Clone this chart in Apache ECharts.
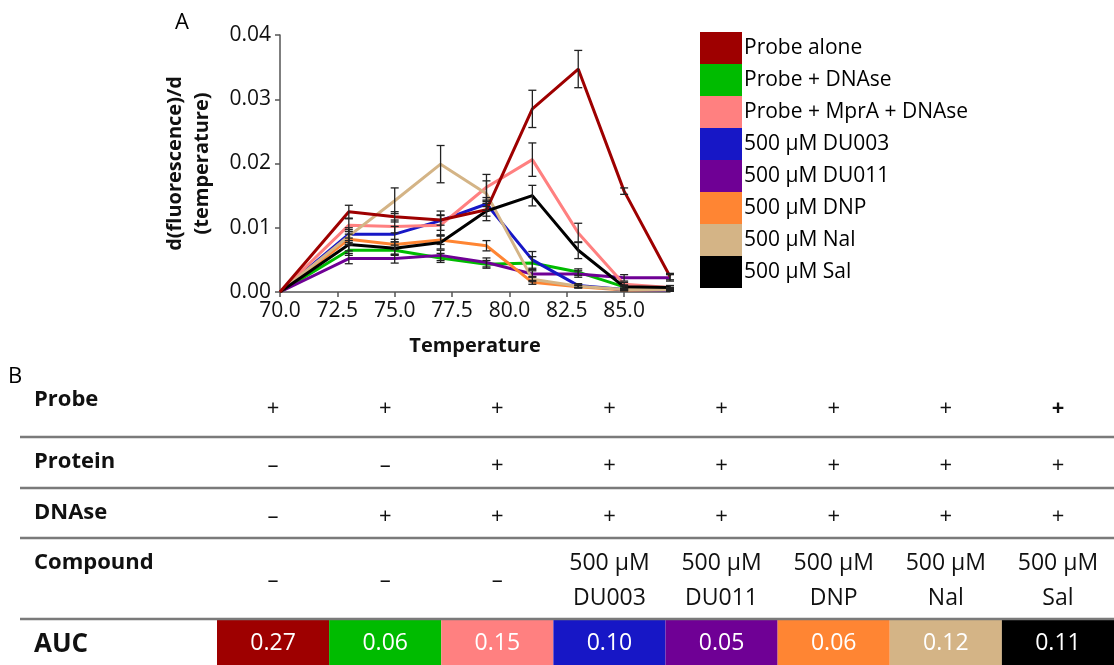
<!DOCTYPE html>
<html>
<head>
<meta charset="utf-8">
<script src="https://cdn.jsdelivr.net/npm/echarts@6/dist/echarts.min.js"></script>
<style>
  html, body { margin: 0; padding: 0; background: #fff; }
  #chart { width: 1114px; height: 665px; }
</style>
</head>
<body>
<div id="chart"></div>
<script>
// ---- data ----
const TEMPS = [70, 73, 75, 77, 79, 81, 83, 85, 87];
const X_TICKS = [70, 72.5, 75, 77.5, 80, 82.5, 85];

const SERIES_NAMES = ['Probe alone', 'Probe + DNAse', 'Probe + MprA + DNAse', '500 µM DU003',
  '500 µM DU011', '500 µM DNP', '500 µM Nal', '500 µM Sal'];

const probeAlone = [0, 0.0125, 0.0117, 0.0112, 0.0128, 0.0285, 0.0347, 0.0157, 0.0024];
const probeDNAse = [0, 0.0065, 0.0065, 0.0053, 0.0043, 0.0045, 0.0031, 0.0008, 0.0005];
const probeMprA  = [0, 0.0104, 0.0102, 0.0104, 0.0163, 0.0206, 0.0092, 0.0012, 0.0007];
const du003      = [0, 0.0090, 0.0090, 0.0111, 0.0137, 0.0050, 0.0010, 0.0004, 0.0003];
const du011      = [0, 0.0052, 0.0052, 0.0057, 0.0046, 0.0028, 0.0028, 0.0022, 0.0022];
const dnp        = [0, 0.0082, 0.0074, 0.0081, 0.0072, 0.0015, 0.0008, 0.0003, 0.0003];
const nal        = [0, 0.0087, 0.0142, 0.0199, 0.0153, 0.0020, 0.0009, 0.0004, 0.0004];
const sal        = [0, 0.0074, 0.0068, 0.0077, 0.0126, 0.0150, 0.0065, 0.0008, 0.0007];

// error bar half-lengths
const probeAloneErr = [0, 0.0010, 0.0008, 0.0008, 0.0010, 0.0029, 0.0029, 0.0005, 0.0005];
const probeDNAseErr = [0, 0.0008, 0.0008, 0.0007, 0.0006, 0.0010, 0.0005, 0.0002, 0.0002];
const probeMprAErr  = [0, 0.0010, 0.0010, 0.0015, 0.0020, 0.0026, 0.0015, 0.0003, 0.0003];
const du003Err      = [0, 0.0010, 0.0012, 0.0015, 0.0010, 0.0013, 0.0003, 0.0002, 0.0002];
const du011Err      = [0, 0.0008, 0.0007, 0.0008, 0.0007, 0.0005, 0.0005, 0.0005, 0.0005];
const dnpErr        = [0, 0.0008, 0.0008, 0.0007, 0.0008, 0.0003, 0.0002, 0.0001, 0.0001];
const nalErr        = [0, 0.0010, 0.0020, 0.0029, 0.0020, 0.0004, 0.0002, 0.0001, 0.0001];
const salErr        = [0, 0.0010, 0.0010, 0.0010, 0.0015, 0.0016, 0.0013, 0.0003, 0.0003];

// table B
const ROW_NAMES = ['Probe', 'Protein', 'DNAse', 'Compound', 'AUC'];
const probeRow    = ['+', '+', '+', '+', '+', '+', '+', '+'];
const proteinRow  = ['–', '–', '+', '+', '+', '+', '+', '+'];
const dnaseRow    = ['–', '+', '+', '+', '+', '+', '+', '+'];
const compoundRow = ['–', '–', '–', '500 µM\nDU003', '500 µM\nDU011', '500 µM\nDNP', '500 µM\nNal', '500 µM\nSal'];
const aucValues   = [0.27, 0.06, 0.15, 0.10, 0.05, 0.06, 0.12, 0.11];

// ---- styles / layout ----
const COLORS = ['#9e0000', '#00bb00', '#ff8080', '#1717c6', '#6f0095', '#ff8533', '#d4b486', '#000000'];
const Z_ORDER = [9, 2, 6, 5, 3, 4, 7, 8];
const FONT = '"Open Sans", "Noto Sans", sans-serif';
const ROW_Y = { probe: 409, protein: 466, dnase: 517, compound: 581, aucTop: 619, aucH: 46 };
const RULES_Y = [437, 488, 538, 619];

const values = [probeAlone, probeDNAse, probeMprA, du003, du011, dnp, nal, sal];
const errors = [probeAloneErr, probeDNAseErr, probeMprAErr, du003Err, du011Err, dnpErr, nalErr, salErr];

const chart = echarts.init(document.getElementById('chart'));

const series = [];
SERIES_NAMES.forEach((name, k) => {
  series.push({
    name: name,
    type: 'line',
    xAxisIndex: 0, yAxisIndex: 0,
    data: TEMPS.map((t, i) => [t, values[k][i]]),
    showSymbol: false,
    symbol: 'none',
    color: COLORS[k],
    lineStyle: { width: 3, color: COLORS[k] },
    z: Z_ORDER[k],
    animation: false
  });
});

// error bars, all series in one custom series
const errData = [];
values.forEach((arr, k) => {
  arr.forEach((v, i) => { if (errors[k][i] > 0) errData.push([TEMPS[i], v, errors[k][i]]); });
});
series.push({
  type: 'custom',
  xAxisIndex: 0, yAxisIndex: 0,
  data: errData,
  z: 20,
  silent: true,
  animation: false,
  renderItem: function (params, api) {
    const x = api.value(0), y = api.value(1), e = api.value(2);
    const lo = api.coord([x, y - e]);
    const hi = api.coord([x, y + e]);
    const c = 4;
    const st = { stroke: '#222', lineWidth: 1.3 };
    return {
      type: 'group',
      children: [
        { type: 'line', shape: { x1: lo[0], y1: lo[1], x2: hi[0], y2: hi[1] }, style: st },
        { type: 'line', shape: { x1: lo[0] - c, y1: lo[1], x2: lo[0] + c, y2: lo[1] }, style: st },
        { type: 'line', shape: { x1: hi[0] - c, y1: hi[1], x2: hi[0] + c, y2: hi[1] }, style: st }
      ]
    };
  }
});

// table cells
series.push({
  type: 'custom',
  xAxisIndex: 1, yAxisIndex: 1,
  data: aucValues.map((v, i) => [i, v]),
  silent: true,
  animation: false,
  renderItem: function (params, api) {
    const i = params.dataIndex;
    const cx = api.coord([i, 0])[0];
    const w = api.size([1, 0])[0];
    const txt = (s, y, size) => ({
      type: 'text',
      style: { text: s, x: cx, y: y, align: 'center', verticalAlign: 'middle',
        fontFamily: FONT, fontSize: size, fill: '#111', lineHeight: 35 }
    });
    const children = [
      txt(probeRow[i], ROW_Y.probe, 22),
      txt(proteinRow[i], ROW_Y.protein, 22),
      txt(dnaseRow[i], ROW_Y.dnase, 22),
      txt(compoundRow[i], ROW_Y.compound, compoundRow[i].length > 1 ? 23 : 22),
      { type: 'rect', shape: { x: cx - w / 2, y: ROW_Y.aucTop, width: w, height: ROW_Y.aucH },
        style: { fill: COLORS[i] } },
      { type: 'text', style: { text: api.value(1).toFixed(2), x: cx, y: ROW_Y.aucTop + ROW_Y.aucH / 2 + 1,
        align: 'center', verticalAlign: 'middle', fontFamily: FONT, fontSize: 23, fill: '#fff' } }
    ];
    if (i === probeRow.length - 1) children[0].style.fontWeight = 'bold';
    return { type: 'group', children: children };
  }
});

const graphics = [
  { type: 'text', left: 175, top: 12, style: { text: 'A', fontFamily: FONT, fontSize: 22, fill: '#000' } },
  { type: 'text', left: 8, top: 366, style: { text: 'B', fontFamily: FONT, fontSize: 22, fill: '#000' } }
];
RULES_Y.forEach(y => graphics.push({
  type: 'line', shape: { x1: 20, y1: y, x2: 1114, y2: y },
  style: { stroke: '#7a7a7a', lineWidth: 2.5 }, z: 5
}));
const labelY = [400, 462, 513, 563, 645];
ROW_NAMES.forEach((n, r) => graphics.push({
  type: 'text', x: 34, y: labelY[r],
  style: { text: n, fontFamily: FONT, fontWeight: 'bold', fontSize: n === 'AUC' ? 26 : 22,
    fill: '#111', verticalAlign: 'middle' }
}));

const option = {
  backgroundColor: '#fff',
  animation: false,
  textStyle: { fontFamily: FONT },
  grid: [
    { left: 280, top: 35, width: 390, height: 257 },
    { left: 217, top: 380, width: 906, height: 285 }
  ],
  legend: {
    orient: 'vertical',
    left: 700, top: 32, padding: 0,
    icon: 'rect',
    itemWidth: 42, itemHeight: 32, itemGap: 0,
    data: SERIES_NAMES,
    selectedMode: false,
    textStyle: { fontFamily: FONT, fontSize: 21, color: '#000', padding: [0, 0, 0, -3] }
  },
  xAxis: [{
    type: 'value', gridIndex: 0,
    min: 70, max: 87, interval: 2.5,
    name: 'Temperature', nameLocation: 'middle', nameGap: 44,
    nameTextStyle: { fontFamily: FONT, fontWeight: 'bold', fontSize: 20, color: '#111' },
    axisLine: { lineStyle: { color: '#555', width: 1.5 } },
    axisTick: { show: true, length: 5, lineStyle: { color: '#555', width: 1.5 }, customValues: X_TICKS },
    axisLabel: { fontSize: 21, color: '#111', margin: 9, customValues: X_TICKS,
      formatter: v => v.toFixed(1) },
    splitLine: { show: false }
  }, {
    type: 'category', gridIndex: 1,
    data: aucValues.map((v, i) => i),
    show: false
  }],
  yAxis: [{
    type: 'value', gridIndex: 0,
    min: 0, max: 0.04, interval: 0.01,
    name: 'd(fluorescence)/d\n(temperature)', nameLocation: 'middle', nameRotate: 90, nameGap: 64,
    nameTextStyle: { fontFamily: FONT, fontWeight: 'bold', fontSize: 20, lineHeight: 27, color: '#111' },
    axisLine: { show: true, lineStyle: { color: '#555', width: 1.5 } },
    axisTick: { show: true, length: 5, lineStyle: { color: '#555', width: 1.5 } },
    axisLabel: { fontSize: 21, color: '#111', margin: 9, formatter: v => v.toFixed(2) },
    splitLine: { show: false }
  }, {
    type: 'value', gridIndex: 1, min: 0, max: 1, show: false
  }],
  graphic: graphics,
  series: series
};

chart.setOption(option);
</script>
</body>
</html>
